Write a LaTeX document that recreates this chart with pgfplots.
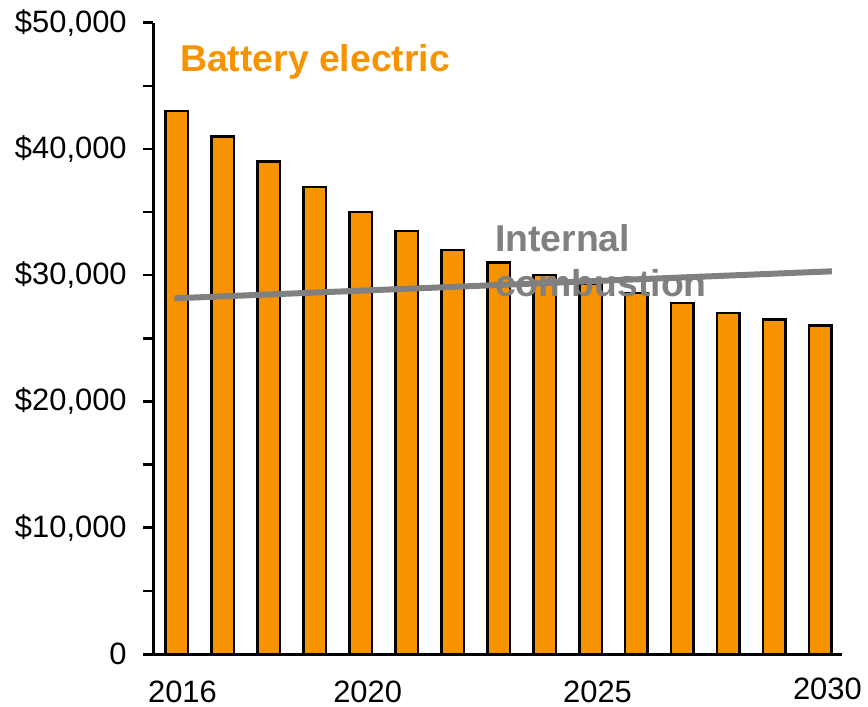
\documentclass[border=0pt]{standalone}
\usepackage{pgfplots}
\pgfplotsset{compat=1.18}
\usepackage{fontspec}
\setmainfont{Liberation Sans}

\definecolor{bevorange}{RGB}{247,147,0}
\definecolor{icegray}{RGB}{128,128,128}

\pgfplotstableread{
year price
2016 43000
2017 41000
2018 39000
2019 37000
2020 35000
2021 33500
2022 32000
2023 31000
2024 30000
2025 29300
2026 28600
2027 27800
2028 27000
2029 26500
2030 26000
}\bevprice

\pgfplotstableread{
year price
2015.95 28170
2030.25 30310
}\iceprice

\begin{document}
\begin{tikzpicture}
\path[use as bounding box] (-153.3bp,-53bp) rectangle (714.7bp,654bp);
\begin{axis}[
  scale only axis,
  width=688.7bp, height=631.3bp,
  xmin=2015.49, xmax=2030.47,
  ymin=0, ymax=50000,
  axis x line*=bottom, axis y line*=left,
  axis line style={line width=3bp, black},
  x axis line style={shorten <=-10bp},
  xtick={2016,2020,2025,2030},
  xticklabels={\hspace*{-2.5bp}2016,2020,2025,\raisebox{2.5bp}{2030}},
  x tick style={draw=none},
  xticklabel style={anchor=base, inner sep=0pt, xshift=7bp, yshift=-38bp},
  ytick={0,10000,20000,30000,40000,50000},
  yticklabels={0,{\$10,000},{\$20,000},{\$30,000},{\$40,000},{\$50,000}},
  minor ytick={5000,15000,25000,35000,45000},
  tick align=outside,
  major tick length=10bp, minor tick length=10bp,
  y tick style={line width=2.5bp, black},
  yticklabel style={anchor=east, inner sep=0pt, xshift=-16.5bp},
  ticklabel style={font=\fontsize{31}{35}\selectfont},
  scaled y ticks=false,
  clip=false,
]
\addplot[ybar, bar width=22.5bp, fill=bevorange, draw=black, line width=2.5bp]
  table[x=year, y=price] {\bevprice};
\addplot[icegray, line width=6bp] table[x=year, y=price] {\iceprice};
\node[anchor=base west, inner sep=0pt, text=bevorange,
      font=\fontsize{37.5}{41}\selectfont\bfseries]
  at (axis cs:2016.07,46120) {Battery electric};
\node[anchor=base west, inner sep=0pt, text=icegray,
      font=\fontsize{37.5}{41}\selectfont\bfseries]
  at (axis cs:2022.92,31840) {Internal};
\node[anchor=base west, inner sep=0pt, text=icegray,
      font=\fontsize{37.5}{41}\selectfont\bfseries]
  at (axis cs:2022.92,28300) {combustion};
\end{axis}
\end{tikzpicture}
\end{document}
